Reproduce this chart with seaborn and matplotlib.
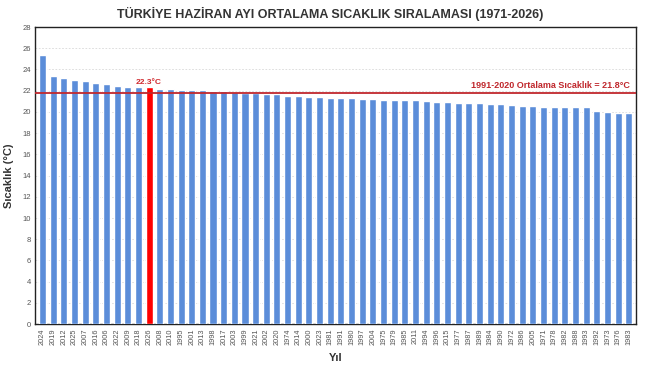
import matplotlib
matplotlib.use("Agg")
import matplotlib.pyplot as plt
import seaborn as sns
import pandas as pd

years = ["2024", "2019", "2012", "2025", "2007", "2016", "2006", "2022", "2009", "2018",
         "2026", "2008", "2010", "1995", "2001", "2013", "1998", "2017", "2003", "1999",
         "2021", "2002", "2020", "1974", "2014", "2000", "2023", "1981", "1991", "1980",
         "1997", "2004", "1975", "1979", "1985", "2011", "1994", "1996", "2015", "1977",
         "1987", "1989", "1984", "1990", "1972", "1986", "2005", "1971", "1978", "1982",
         "1988", "1993", "1992", "1973", "1976", "1983"]
temps = [25.4, 23.4, 23.2, 23.0, 22.9, 22.7, 22.6, 22.45, 22.35, 22.3,
         22.3, 22.2, 22.2, 22.1, 22.1, 22.1, 22.0, 22.0, 21.9, 21.8,
         21.8, 21.7, 21.7, 21.5, 21.5, 21.4, 21.4, 21.35, 21.3, 21.3,
         21.25, 21.2, 21.1, 21.1, 21.1, 21.1, 21.0, 20.9, 20.9, 20.85,
         20.8, 20.8, 20.7, 20.7, 20.65, 20.6, 20.6, 20.5, 20.5, 20.5,
         20.5, 20.5, 20.1, 20.0, 19.9, 19.85]
highlight_year = "2026"
normal_mean = 21.8
y_ticks = list(range(0, 29, 2))

title = "TÜRKİYE HAZİRAN AYI ORTALAMA SICAKLIK SIRALAMASI (1971-2026)"
mean_label = "1991-2020 Ortalama Sıcaklık = 21.8°C"

sns.set_theme(style="white")
plt.rcParams["font.family"] = ["Liberation Sans", "DejaVu Sans"]

df = pd.DataFrame({"Yıl": years, "Sıcaklık": temps})
palette = {y: ("#FF0000" if y == highlight_year else "#5B8DD9") for y in years}

fig = plt.figure(figsize=(6.6, 3.65), dpi=100)
ax = fig.add_axes([0.053, 0.112, 0.911, 0.814])

sns.barplot(data=df, x="Yıl", y="Sıcaklık", hue="Yıl", palette=palette,
            order=years, hue_order=years, legend=False, width=0.66,
            saturation=1, ax=ax, zorder=3)

ax.set_ylim(0, 28)
ax.set_xlim(-0.7, len(years) - 0.3)
ax.set_yticks(y_ticks)
ax.tick_params(axis="y", labelsize=5.5, labelcolor="#555555", length=0, pad=3)
ax.tick_params(axis="x", labelsize=5.3, labelcolor="#555555", length=0, pad=3, rotation=90)
ax.grid(axis="y", linestyle=(0, (2, 2)), color="#d8d8d8", linewidth=0.6, zorder=0)

for s in ax.spines.values():
    s.set_visible(True)
    s.set_color("#222222")
    s.set_linewidth(1.0)

ax.axhline(normal_mean, color="#C0282D", linewidth=1.3, zorder=4)
ax.text(len(years) - 0.9, normal_mean + 0.25, mean_label, color="#C0282D",
        fontsize=6.5, fontweight="bold", ha="right", va="bottom", zorder=5)

hi = years.index(highlight_year)
ax.text(hi, temps[hi] + 0.15, f"{temps[hi]}°C", color="#D0282D", fontsize=6,
        fontweight="bold", ha="center", va="bottom", zorder=5)

ax.set_xlabel("Yıl", fontsize=8, fontweight="bold", color="#333333", labelpad=6)
ax.set_ylabel("Sıcaklık (°C)", fontsize=8, fontweight="bold", color="#333333", labelpad=6)
fig.suptitle(title, fontsize=9, fontweight="bold", color="#333333", y=0.982)

fig.savefig("out.png", dpi=100)
